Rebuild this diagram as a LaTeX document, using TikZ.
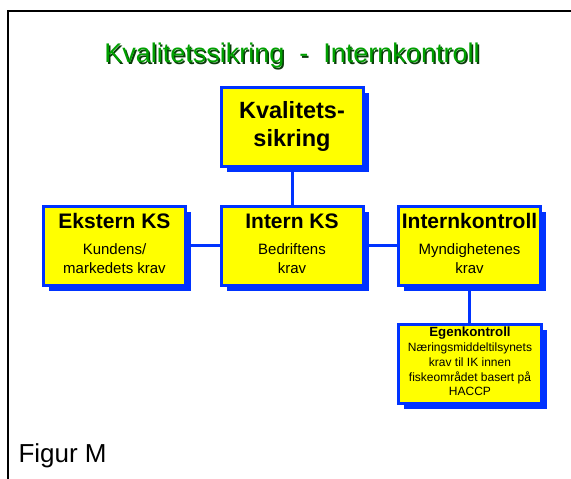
\documentclass[tikz,border=0pt]{standalone}
\usepackage{fontspec}
\setmainfont{Liberation Sans}
\usetikzlibrary{shadows}
\definecolor{kblue}{RGB}{0,51,255}
\definecolor{kyellow}{RGB}{255,255,0}
\definecolor{tgreen}{RGB}{0,160,0}
\definecolor{tshadow}{RGB}{10,60,10}
\begin{document}
\begin{tikzpicture}[x=1pt,y=1pt,
  kbox/.style={rectangle, draw=kblue, line width=3pt, fill=kyellow, inner sep=0pt,
    minimum width=142pt, minimum height=79pt,
    drop shadow={shadow xshift=5.5pt, shadow yshift=-5.5pt, fill=kblue, opacity=1}},
  conn/.style={draw=kblue, line width=3pt},
  txt/.style={anchor=base, inner sep=0pt, text=black},
  bigbold/.style={txt, font=\bfseries\fontsize{23.5}{28}\selectfont},
  rowbold/.style={txt, font=\bfseries\fontsize{21}{25}\selectfont},
  rowsub/.style={txt, font=\fontsize{15}{18}\selectfont},
  smallbold/.style={txt, font=\bfseries\fontsize{13.3}{16}\selectfont},
  smallsub/.style={txt, font=\fontsize{12}{14}\selectfont}]
\useasboundingbox (0,0) rectangle (571,479);
\fill[white] (0,0) rectangle (571,479);
% frame
\coordinate (fa) at (8.3,0);
\coordinate (fb) at (8.3,468.3);
\coordinate (fc) at (571,468.3);
\draw[line width=2pt, line cap=rect] (fa) -- (fb) -- (fc);
% title
\node[anchor=base, inner sep=0pt, text=tshadow, font=\fontsize{27}{32}\selectfont] (titleshadow) at (293.5,414.5) {Kvalitetssikring\ \ -\ \ Internkontroll};
\node[anchor=base, inner sep=0pt, text=tgreen, font=\fontsize{27}{32}\selectfont] (title) at (292,416) {Kvalitetssikring\ \ -\ \ Internkontroll};
% boxes
\node[kbox] (ks) at (292,351.5) {};
\node[kbox] (ext) at (114.5,233) {};
\node[kbox] (int) at (292,233) {};
\node[kbox] (ik) at (469.5,233) {};
\node[kbox, minimum width=143pt] (ek) at (470,115) {};
% connectors
\draw[conn] (ks.south) -- (int.north);
\draw[conn] (ext.east) -- (int.west);
\draw[conn] (int.east) -- (ik.west);
\draw[conn] (ik.south) -- (ik.south |- ek.north);
% texts
\node[bigbold] (ks1) at (292,360.7) {Kvalitets-};
\node[bigbold] (ks2) at (292,332.3) {sikring};
\node[rowbold] (ext1) at (114.5,250.7) {Ekstern KS};
\node[rowsub] (ext2) at (114.5,224) {Kundens/};
\node[rowsub] (ext3) at (114.5,205.7) {markedets krav};
\node[rowbold] (int1) at (292,250.7) {Intern KS};
\node[rowsub] (int2) at (292,224) {Bedriftens};
\node[rowsub] (int3) at (292,205.7) {krav};
\node[rowbold] (ik1) at (469.5,250.7) {Internkontroll};
\node[rowsub] (ik2) at (469.5,224) {Myndighetenes};
\node[rowsub] (ik3) at (469.5,205.7) {krav};
\node[smallbold] (ek1) at (470,142.3) {Egenkontroll};
\node[smallsub] (ek2) at (470,127.3) {Næringsmiddeltilsynets};
\node[smallsub] (ek3) at (470,112.6) {krav til IK innen};
\node[smallsub] (ek4) at (470,97.9) {fiskeområdet basert på};
\node[smallsub] (ek5) at (470,83.2) {HACCP};
% figure label
\node[anchor=base west, inner sep=0pt, font=\fontsize{26}{31}\selectfont] (fig) at (18.3,16) {Figur M};
\end{tikzpicture}
\end{document}
